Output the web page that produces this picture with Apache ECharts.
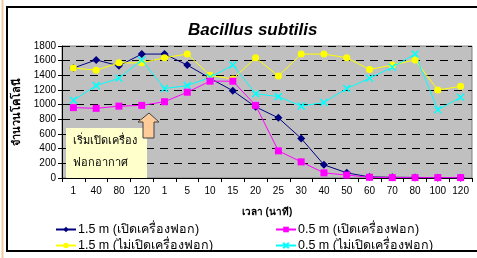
<!DOCTYPE html>
<html>
<head>
<meta charset="utf-8">
<script src="https://cdn.jsdelivr.net/npm/echarts@6/dist/echarts.min.js"></script>
<style>
  html, body { margin: 0; padding: 0; background: #fff; }
  #chart { width: 477px; height: 258px; }
</style>
</head>
<body>
<div id="chart"></div>
<script>
// เวลา (นาที) - two runs: before and after the air purifier is switched on
const categories = ['1', '40', '80', '120', '1', '5', '10', '15', '20', '25', '30', '40', '50', '60', '70', '80', '100', '120'];

const onFar = [1500, 1610, 1530, 1690, 1690, 1540, 1360, 1190, 970, 820, 540, 180, 70, 15, 10, 8, 5, 5];       // 1.5 m เปิด
const onNear = [960, 950, 980, 990, 1040, 1170, 1320, 1320, 990, 370, 220, 70, 40, 10, 5, 5, 5, 5];             // 0.5 m เปิด
const offFar = [1500, 1470, 1570, 1570, 1640, 1690, 1400, 1350, 1640, 1390, 1690, 1690, 1640, 1480, 1540, 1610, 1200, 1250]; // 1.5 m ไม่เปิด
const offNear = [1060, 1260, 1360, 1610, 1220, 1260, 1370, 1540, 1150, 1110, 980, 1030, 1220, 1360, 1510, 1690, 930, 1100]; // 0.5 m ไม่เปิด

const yTicks = { min: 0, max: 1800, interval: 200 };

const FONT = "'Liberation Sans', Arial, 'DejaVu Sans', 'Noto Sans', sans-serif";

const chart = echarts.init(document.getElementById('chart'));

const lineSeries = (name, data, color, symbol, size) => ({
    name: name,
    type: 'line',
    data: data,
    symbol: symbol,
    symbolSize: size,
    lineStyle: { color: color, width: 1 },
    itemStyle: { color: color, borderColor: color, borderWidth: symbol.indexOf('path') === 0 ? 1.5 : 0 },
    emphasis: { disabled: true },
    animation: false
});

const option = {
    backgroundColor: '#fff',
    textStyle: { fontFamily: FONT },
    title: {
        text: 'Bacillus subtilis',
        left: 183,
        top: 17,
        textStyle: { fontSize: 17, fontWeight: 'bold', fontStyle: 'italic', color: '#000', fontFamily: FONT }
    },
    grid: {
        left: 62, right: 5, top: 46, bottom: 80,
        show: true,
        backgroundColor: '#C0C0C0',
        borderColor: '#808080',
        borderWidth: 1
    },
    legend: [
        {
            orient: 'vertical',
            left: 50, top: 218,
            itemWidth: 20, itemHeight: 7, itemGap: 3,
            data: ['1.5 m (เปิดเครื่องฟอก)', '1.5 m (ไม่เปิดเครื่องฟอก)'],
            textStyle: { fontSize: 12.5, color: '#000', fontFamily: FONT, padding: [0, 0, 0, -3] }
        },
        {
            orient: 'vertical',
            left: 270, top: 218,
            itemWidth: 20, itemHeight: 7, itemGap: 3,
            data: ['0.5 m (เปิดเครื่องฟอก)', '0.5 m (ไม่เปิดเครื่องฟอก)'],
            textStyle: { fontSize: 12.5, color: '#000', fontFamily: FONT, padding: [0, 0, 0, -3] }
        }
    ],
    xAxis: {
        type: 'category',
        data: categories,
        boundaryGap: true,
        name: 'เวลา (นาที)',
        nameLocation: 'middle',
        nameGap: 29,
        nameTextStyle: { fontSize: 10, fontWeight: 'bold', color: '#000' },
        axisLine: { lineStyle: { color: '#000', width: 1 } },
        axisTick: { show: true, length: 4, lineStyle: { color: '#000' } },
        axisLabel: { fontSize: 10, color: '#000', margin: 8, interval: 0 },
        splitLine: { show: false }
    },
    yAxis: {
        type: 'value',
        min: yTicks.min,
        max: yTicks.max,
        interval: yTicks.interval,
        name: 'จำนวนโคโลนี',
        nameLocation: 'middle',
        nameGap: 32,
        nameTextStyle: { fontSize: 11, fontWeight: 'bold', color: '#000' },
        axisLine: { show: true, lineStyle: { color: '#000', width: 1 } },
        axisTick: { show: true, length: 4, lineStyle: { color: '#000' } },
        axisLabel: { fontSize: 10, color: '#000', margin: 6, formatter: (v) => String(v) },
        splitLine: { show: true, lineStyle: { color: '#000', type: [8, 6], width: 1 } }
    },
    graphic: [
        // page edge and chart frame
        { type: 'line', shape: { x1: 2.5, y1: 0, x2: 2.5, y2: 258 }, style: { stroke: '#F8C9A0', lineWidth: 2 }, silent: true },
        { type: 'rect', shape: { x: 7, y: 7, width: 472, height: 244 }, style: { fill: null, stroke: '#000', lineWidth: 2 }, silent: true },
        // note box
        { type: 'rect', shape: { x: 66, y: 128, width: 81, height: 50 }, style: { fill: '#FFFFCC', stroke: null }, z: 10, silent: true },
        { type: 'text', x: 73, y: 135, style: { text: 'เริ่มเปิดเครื่อง', fontSize: 11, fill: '#000', fontFamily: FONT }, z: 11, silent: true },
        { type: 'text', x: 73, y: 157, style: { text: 'ฟอกอากาศ', fontSize: 11, fill: '#000', fontFamily: FONT }, z: 11, silent: true },
        // arrow
        {
            type: 'polygon',
            shape: { points: [[149, 113], [159, 122], [154, 122], [154, 138], [143, 138], [143, 122], [138, 122]] },
            style: { fill: '#FFCC99', stroke: '#404040', lineWidth: 1 },
            z: 10, silent: true
        }
    ],
    series: [
        lineSeries('1.5 m (เปิดเครื่องฟอก)', onFar, '#000080', 'diamond', 8),
        lineSeries('1.5 m (ไม่เปิดเครื่องฟอก)', offFar, '#FFFF00', 'circle', 7),
        lineSeries('0.5 m (ไม่เปิดเครื่องฟอก)', offNear, '#00FFFF', 'path://M0,0L10,10M10,0L0,10', 7),
        lineSeries('0.5 m (เปิดเครื่องฟอก)', onNear, '#FF00FF', 'rect', 7)
    ]
};

chart.setOption(option);
</script>
</body>
</html>
